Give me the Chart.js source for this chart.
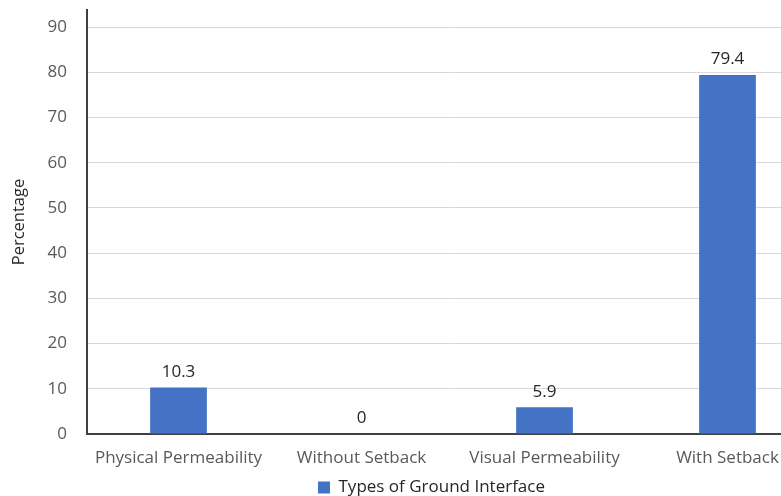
<!DOCTYPE html>
<html>
<head>
<meta charset="utf-8">
<script src="https://cdn.jsdelivr.net/npm/chart.js@4.4.0/dist/chart.umd.min.js"></script>
<style>
  html, body { margin: 0; padding: 0; background: #fff; overflow: hidden; }
  #wrap { position: relative; width: 830px; height: 506px; }
</style>
</head>
<body>
<div id="wrap"><canvas id="chart"></canvas></div>
<script>
// data
var categories = ["Physical Permeability", "Without Setback", "Visual Permeability", "With Setback"];
var percentages = [10.3, 0, 5.9, 79.4];
var seriesName = "Types of Ground Interface";
var yTicks = [0, 10, 20, 30, 40, 50, 60, 70, 80, 90];

var FONT = "'Open Sans', 'Noto Sans', sans-serif";

// value labels over the bars
var barLabels = {
  id: 'barLabels',
  afterDatasetsDraw: function(chart){
    var ctx = chart.ctx;
    var meta = chart.getDatasetMeta(0);
    ctx.save();
    ctx.font = "17px " + FONT;
    ctx.fillStyle = "#262626";
    ctx.textAlign = "center";
    ctx.textBaseline = "bottom";
    meta.data.forEach(function(bar, i){
      ctx.fillText(String(percentages[i]), bar.x, bar.y - 7);
    });
    ctx.restore();
  }
};

// legend sits a bit left of the canvas middle (the plot is cut off on the right)
var legendShift = {
  id: 'legendShift',
  afterLayout: function(chart){
    chart.legend.left += 22;
    chart.legend.right += 22;
  }
};

new Chart(document.getElementById("chart"), {
  type: 'bar',
  data: {
    labels: categories,
    datasets: [{
      label: seriesName,
      data: percentages,
      backgroundColor: "#4472C4",
      barPercentage: 0.31,
      categoryPercentage: 1
    }]
  },
  options: {
    responsive: true,
    maintainAspectRatio: false,
    animation: false,
    layout: { padding: { top: 10, right: 11, bottom: 0, left: 0 } },
    plugins: {
      legend: {
        position: 'bottom',
        labels: {
          boxWidth: 12,
          boxHeight: 12,
          color: "#262626",
          font: { family: FONT, size: 17 },
          padding: 0
        }
      },
      tooltip: { enabled: false }
    },
    scales: {
      x: {
        afterFit: function(axis){ axis.height = 45; axis.paddingLeft = 0; axis.paddingRight = 0; },
        grid: { display: false, drawTicks: false },
        border: { color: "#404040", width: 2 },
        ticks: {
          color: "#595959",
          font: { family: FONT, size: 17 },
          padding: 14,
          maxRotation: 0
        }
      },
      y: {
        min: 0,
        max: 93.8,
        afterBuildTicks: function(axis){
          axis.ticks = yTicks.map(function(v){ return { value: v }; });
        },
        afterFit: function(axis){ axis.width = 87; axis.paddingTop = 0; axis.paddingBottom = 0; },
        grid: { color: "#d9d9d9", lineWidth: 1, drawTicks: false },
        border: { color: "#404040", width: 2 },
        ticks: {
          color: "#595959",
          font: { family: FONT, size: 17 },
          padding: 20
        },
        title: {
          display: true,
          text: "Percentage",
          color: "#262626",
          font: { family: FONT, size: 16.5 },
          padding: { top: 9, bottom: 0 }
        }
      }
    }
  },
  plugins: [barLabels, legendShift]
});
</script>
</body>
</html>
